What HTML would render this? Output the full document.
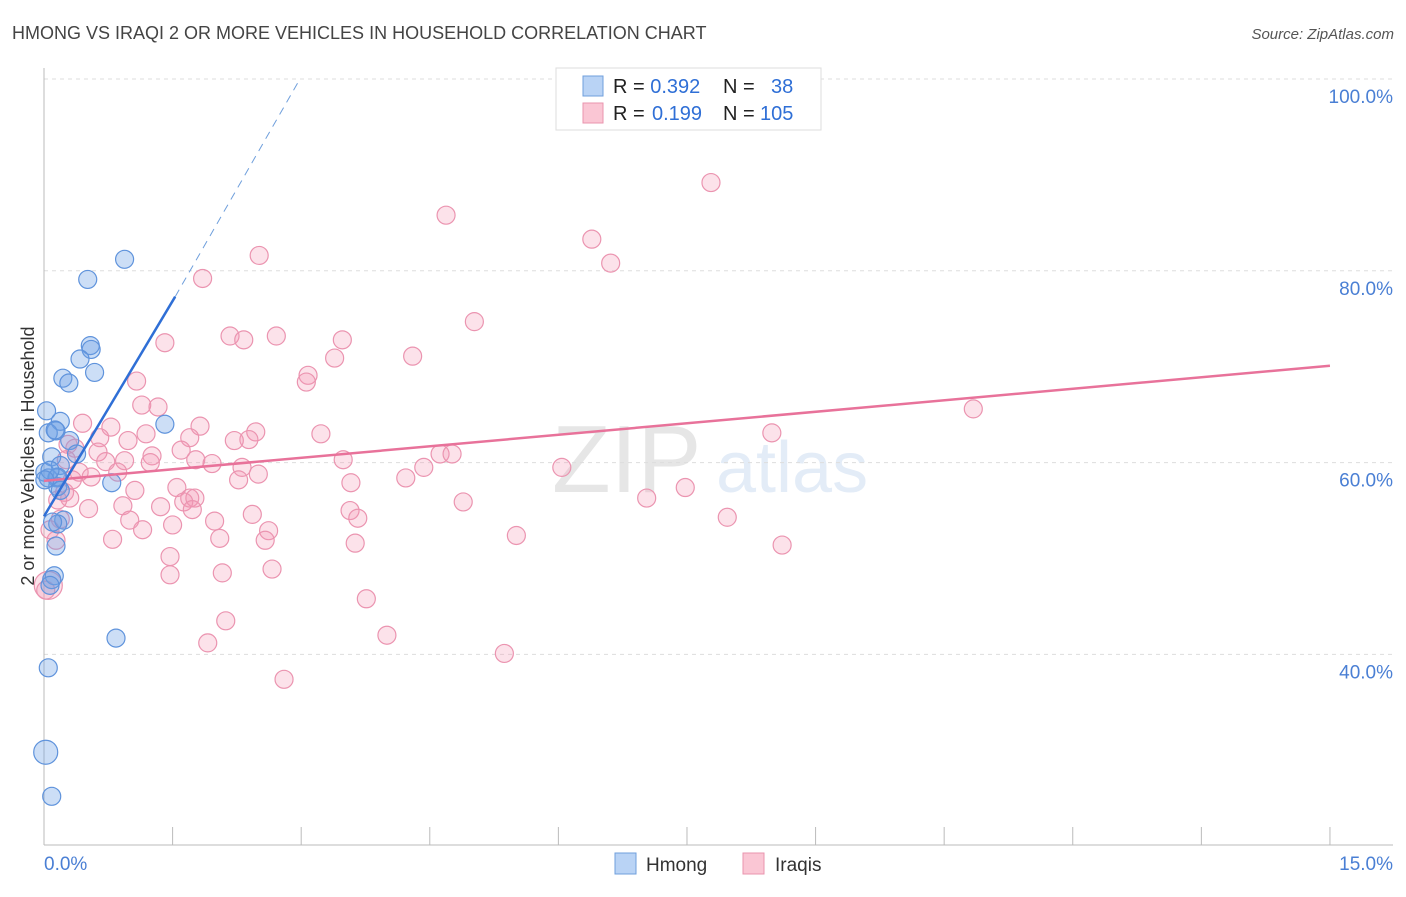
<!DOCTYPE html>
<html><head><meta charset="utf-8"><style>
body{margin:0;background:#fff;font-family:"Liberation Sans",sans-serif;}
svg text{font-family:"Liberation Sans",sans-serif;}
</style></head><body>
<svg id="chart" width="1406" height="892" xmlns="http://www.w3.org/2000/svg">
<text x="12" y="39" font-size="18" fill="#444">HMONG VS IRAQI 2 OR MORE VEHICLES IN HOUSEHOLD CORRELATION CHART</text>
<text x="1394" y="39" font-size="15" fill="#555" font-style="italic" text-anchor="end">Source: ZipAtlas.com</text>
<text transform="translate(34,456) rotate(-90)" font-size="18" fill="#333" text-anchor="middle">2 or more Vehicles in Household</text>
<g opacity="0.18">
<text x="552" y="492" font-size="96" font-family="Liberation Serif" fill="#777">ZIP</text>
<text x="716" y="492" font-size="72" fill="#6a9ad8">atlas</text>
</g>
<g id="grid"></g><g id="axes"></g><g id="pts"></g><g id="lines"></g>
<g>
<rect x="556" y="68" width="265" height="62" fill="#fff" stroke="#ddd"/>
<rect x="583" y="76" width="20" height="20" fill="#b9d3f5" stroke="#6f9fdc"/>
<rect x="583" y="103" width="20" height="20" fill="#fac6d4" stroke="#e994ae"/>
<text x="613" y="93" font-size="20" fill="#222">R = <tspan fill="#2f6fd6">0.392</tspan><tspan x="723">N =</tspan><tspan x="771" fill="#2f6fd6">38</tspan></text>
<text x="613" y="120" font-size="20" fill="#222">R = <tspan x="652" fill="#2f6fd6">0.199</tspan><tspan x="723">N =</tspan><tspan x="760" fill="#2f6fd6">105</tspan></text>
</g>
<g>
<rect x="615" y="853" width="21" height="21" fill="#b9d3f5" stroke="#6f9fdc"/>
<text x="646" y="871" font-size="19" fill="#333">Hmong</text>
<rect x="743" y="853" width="21" height="21" fill="#fac6d4" stroke="#e994ae"/>
<text x="775" y="871" font-size="19" fill="#333">Iraqis</text>
</g>
</svg>
<script>
const yTicks=[40,60,80,100];
const yTickLabels=["40.0%","60.0%","80.0%","100.0%"];
const xTickCount=10;
const hmongX=[0.94,0.51,0.54,0.55,0.42,0.59,0.22,0.29,0.03,0.19,0.14,0.05,0.13,0.30,1.41,0.09,0.19,0.38,0.01,0.05,0.15,0.79,0.16,0.23,0.16,0.14,0.12,0.09,0.07,0.05,0.02,0.09,0.84,0.16,0.07,0.19,0.01,0.10];
const hmongY=[81.2,79.1,72.2,71.8,70.8,69.4,68.8,68.3,65.4,64.3,63.3,63.1,63.4,62.3,64.0,60.6,59.7,60.9,59.0,58.4,58.4,57.9,57.5,54.0,53.6,51.3,48.2,47.8,47.2,38.6,29.8,25.2,41.7,58.5,59.2,57.1,58.2,53.8];
const iraqX=[7.78,4.69,6.39,6.61,2.51,1.85,5.02,2.17,2.71,3.48,2.33,1.41,4.30,3.39,3.08,3.06,1.08,1.14,1.33,0.78,0.45,1.82,2.47,2.39,1.70,2.22,1.19,0.98,0.65,3.23,8.49,10.84,0.28,0.36,0.63,1.60,1.26,1.77,1.96,0.94,1.24,0.72,2.31,3.49,4.43,4.62,4.76,6.04,0.41,0.86,0.55,2.50,2.27,4.22,3.58,1.06,1.55,1.70,1.76,1.63,0.24,0.30,4.89,7.03,7.48,1.36,0.92,0.52,1.73,3.57,3.66,2.43,1.99,1.00,0.19,1.15,1.50,2.62,2.58,2.05,0.80,5.51,7.97,8.61,3.63,1.47,2.66,2.08,1.47,0.05,0.02,3.76,2.12,4.00,1.91,5.37,2.80,0.14,0.07,0.16,0.26,0.33];
const iraqY=[89.2,85.8,83.3,80.8,81.6,79.2,74.7,73.2,73.2,72.8,72.8,72.5,71.1,70.9,69.1,68.4,68.5,66.0,65.8,63.7,64.1,63.8,63.2,62.4,62.6,62.3,63.0,62.3,62.6,63.0,63.1,65.6,61.9,61.5,61.1,61.3,60.7,60.3,59.9,60.2,60.0,60.1,59.5,60.3,59.5,60.9,60.9,59.5,59.0,59.0,58.5,58.8,58.2,58.4,57.9,57.1,57.4,56.3,56.3,55.9,56.9,56.3,55.9,56.3,57.4,55.4,55.5,55.2,55.1,55.0,54.2,54.6,53.9,54.0,54.1,53.0,53.5,52.9,51.9,52.1,52.0,52.4,54.3,51.4,51.6,50.2,48.9,48.5,48.3,47.2,46.7,45.8,43.5,42.0,41.2,40.1,37.4,51.9,53.0,56.1,60.3,58.2];
const hmongLine=[[0,54.4],[1.53,77.3]];
const hmongDash=[[1.53,77.3],[2.96,99.6]];
const iraqLine=[[0,58.1],[15,70.1]];

const X=v=>44+v*85.73;
const Y=v=>79+(100-v)*9.59;
const NS="http://www.w3.org/2000/svg";
function mk(tag,attrs,parent){const e=document.createElementNS(NS,tag);for(const k in attrs)e.setAttribute(k,attrs[k]);parent.appendChild(e);return e;}
const grid=document.getElementById('grid'),axes=document.getElementById('axes'),pts=document.getElementById('pts'),lines=document.getElementById('lines');
yTicks.forEach((t,i)=>{
  const l=mk('line',{x1:44,x2:1393,y1:Y(t),y2:Y(t),stroke:'#ddd','stroke-dasharray':'4,4'},grid);
  
  
  const tx=mk('text',{x:1393,y:Y(t)+24,'font-size':19,fill:'#4a7fd4','text-anchor':'end'},grid);
  tx.textContent=yTickLabels[i];
  
  
});
const ya=mk('line',{x1:44,x2:44,y1:68,y2:845,stroke:'#bbb'},axes);


const xa=mk('line',{x1:44,x2:1393,y1:845,y2:845,stroke:'#bbb'},axes);


for(let i=0;i<=xTickCount;i++){
  const v=i*15/xTickCount;
  const tk=mk('line',{x1:X(v),x2:X(v),y1:827,y2:845,stroke:'#bbb'},axes);
  
  
}
const xl0=mk('text',{x:44,y:870,'font-size':19,fill:'#4a7fd4'},axes);xl0.textContent="0.0%";


const xl1=mk('text',{x:1393,y:870,'font-size':19,fill:'#4a7fd4','text-anchor':'end'},axes);xl1.textContent="15.0%";


iraqX.forEach((v,i)=>{
  const r=(i===89)?14:9;
  const c=mk('circle',{cx:X(v),cy:Y(iraqY[i]),r:r,fill:'rgba(244,150,180,0.28)',stroke:'#eb94b0','stroke-width':1.2},pts);
  
  
});
hmongX.forEach((v,i)=>{
  const r=(i===30)?12:9;
  const c=mk('circle',{cx:X(v),cy:Y(hmongY[i]),r:r,fill:'rgba(110,160,230,0.35)',stroke:'#5f93dc','stroke-width':1.2},pts);
  
  
});
const l1=mk('line',{x1:X(iraqLine[0][0]),y1:Y(iraqLine[0][1]),x2:X(iraqLine[1][0]),y2:Y(iraqLine[1][1]),stroke:'#e8729a','stroke-width':2.5},lines);


const l2=mk('line',{x1:X(hmongLine[0][0]),y1:Y(hmongLine[0][1]),x2:X(hmongLine[1][0]),y2:Y(hmongLine[1][1]),stroke:'#2f6fd6','stroke-width':2.5},lines);


const l3=mk('line',{x1:X(hmongDash[0][0]),y1:Y(hmongDash[0][1]),x2:X(hmongDash[1][0]),y2:Y(hmongDash[1][1]),stroke:'#6f9fdc','stroke-width':1,'stroke-dasharray':'8,6'},lines);


</script>
</body></html>
